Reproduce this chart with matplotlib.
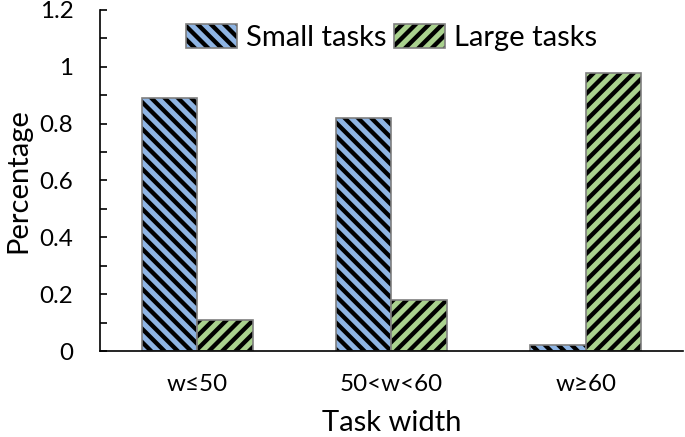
import matplotlib
matplotlib.use("Agg")
import matplotlib.pyplot as plt
import numpy as np
from matplotlib.ticker import MultipleLocator
from matplotlib.patches import Patch
from matplotlib.legend_handler import HandlerTuple

categories = ["w≤50", "50<w<60", "w≥60"]
small_tasks = [0.89, 0.82, 0.02]
large_tasks = [0.11, 0.18, 0.98]
yticks = [0, 0.2, 0.4, 0.6, 0.8, 1.0, 1.2]
ytick_labels = ["0", "0.2", "0.4", "0.6", "0.8", "1", "1.2"]

DPI = 120
plt.rcParams['font.family'] = ['Lato', 'DejaVu Sans']
plt.rcParams['hatch.linewidth'] = 2.6

fig = plt.figure(figsize=(685 / DPI, 437 / DPI), dpi=DPI)
ax = fig.add_axes([100 / 685, 86 / 437, 583 / 685, 341 / 437])

x = np.arange(len(categories))
w = 0.285
blue, green, edge = '#8EB4E3', '#A9D18E', '#7F7F7F'
hs, hl = '\\\\\\', '///'

ax.bar(x - w / 2, small_tasks, w, color=blue, edgecolor='black',
       linewidth=0, hatch=hs)
ax.bar(x - w / 2, small_tasks, w, fill=False, edgecolor=edge, linewidth=1.0)
ax.bar(x + w / 2, large_tasks, w, color=green, edgecolor='black',
       linewidth=0, hatch=hl)
ax.bar(x + w / 2, large_tasks, w, fill=False, edgecolor=edge, linewidth=1.0)

ax.set_xlim(-0.5, 2.5)
ax.set_ylim(0, 1.2)
ax.set_yticks(yticks)
ax.set_yticklabels(ytick_labels)
ax.yaxis.set_minor_locator(MultipleLocator(0.1))
ax.tick_params(axis='y', which='both', direction='in', length=4, width=1,
               labelsize=14.5, pad=16)
ax.set_xticks(x)
ax.set_xticklabels(categories)
ax.tick_params(axis='x', length=0, labelsize=14.5, pad=14)

for s in ['top', 'right']:
    ax.spines[s].set_visible(False)
for s in ['left', 'bottom']:
    ax.spines[s].set_color('black')
    ax.spines[s].set_linewidth(1.0)
    ax.spines[s].set_zorder(5)

ax.set_ylabel('Percentage', fontsize=17.5, labelpad=5)
ax.set_xlabel('Task width', fontsize=17.5, labelpad=9)

h1 = (Patch(facecolor=blue, edgecolor='black', linewidth=0, hatch=hs),
      Patch(fill=False, edgecolor=edge, linewidth=1.0))
h2 = (Patch(facecolor=green, edgecolor='black', linewidth=0, hatch=hl),
      Patch(fill=False, edgecolor=edge, linewidth=1.0))
ax.legend([h1, h2], ['Small tasks', 'Large tasks'],
          handler_map={tuple: HandlerTuple(ndivide=1, pad=0)},
          loc='upper center', bbox_to_anchor=(0.5, 1.035), ncol=2,
          frameon=False, fontsize=17.5, handlelength=1.75,
          handleheight=0.85, handletextpad=0.3, columnspacing=0.25)

fig.savefig('out.png', dpi=DPI)
